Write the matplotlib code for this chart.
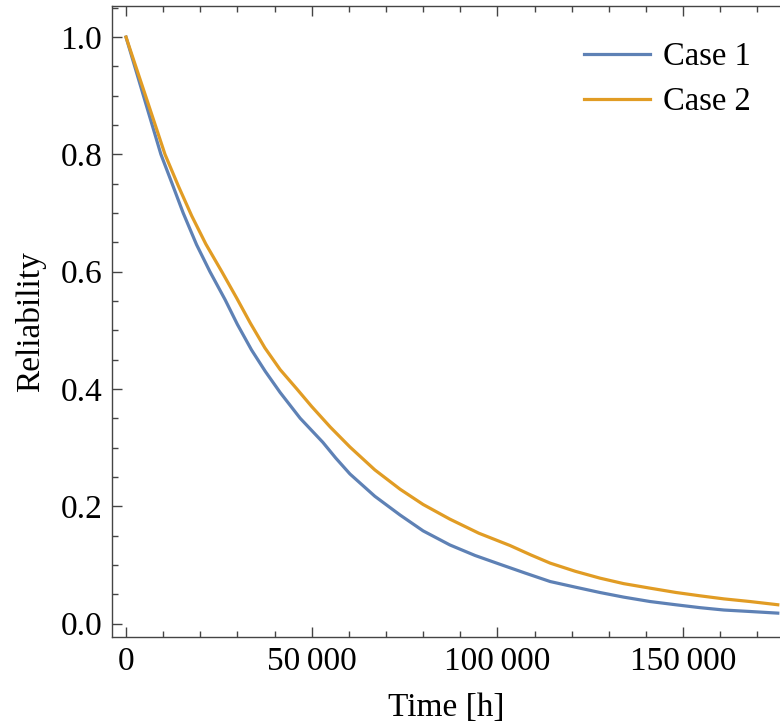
import matplotlib
matplotlib.use("Agg")
from matplotlib import pyplot as plt
from matplotlib.ticker import MultipleLocator, FuncFormatter

# values
time_case1 = [0, 4700, 9400, 12300, 15400, 19000, 22600, 26700, 30000, 33800,
              37500, 41500, 46900, 53000, 56500, 60300, 67000, 73800, 80000,
              87200, 94000, 100700, 107500, 114200, 121000, 127600, 134000,
              141100, 148000, 154600, 161000, 168000, 175500]
rel_case1 = [1.0, 0.9, 0.8, 0.752, 0.70, 0.646, 0.6, 0.552, 0.51, 0.4665,
             0.43, 0.394, 0.350, 0.309, 0.282, 0.255, 0.217, 0.185, 0.158,
             0.134, 0.116, 0.101, 0.086, 0.0716, 0.062, 0.0529, 0.045,
             0.0375, 0.032, 0.027, 0.023, 0.0205, 0.0177]

time_case2 = [0, 5000, 10500, 14100, 17700, 21500, 25800, 29800, 33500, 37400,
              41500, 46000, 50000, 55000, 60300, 67000, 73800, 80000, 87200,
              95000, 103400, 109000, 114200, 121000, 127600, 134000, 141100,
              148000, 154600, 161000, 168000, 175500]
rel_case2 = [1.0, 0.905, 0.8, 0.746, 0.695, 0.647, 0.6, 0.555, 0.512, 0.47,
             0.433, 0.4, 0.37, 0.335, 0.301, 0.262, 0.229, 0.203, 0.178,
             0.154, 0.133, 0.117, 0.103, 0.089, 0.0774, 0.068, 0.0603,
             0.053, 0.0472, 0.042, 0.0375, 0.032]

labels = ['Case 1', 'Case 2']
colors = ['#5E81B5', '#E19C24']


def thousands(v, pos):
    return f"{int(round(v)):,}".replace(',', '\u2009')


def main():
    plt.rcParams['font.family'] = ['Liberation Serif', 'DejaVu Serif']
    fig = plt.figure(figsize=(7.8, 7.26), dpi=100)
    ax = fig.add_axes([112 / 780, 89 / 726, 1 - 112 / 780, 631 / 726])

    ax.plot(time_case1, rel_case1, color=colors[0], lw=2.3, label=labels[0])
    ax.plot(time_case2, rel_case2, color=colors[1], lw=2.3, label=labels[1])

    ax.set_xlim(-3770, 176100)
    ax.set_ylim(-0.023, 1.053)

    ax.xaxis.set_major_locator(MultipleLocator(50000))
    ax.xaxis.set_minor_locator(MultipleLocator(10000))
    ax.xaxis.set_major_formatter(FuncFormatter(thousands))
    ax.yaxis.set_major_locator(MultipleLocator(0.2))
    ax.yaxis.set_minor_locator(MultipleLocator(0.05))
    ax.yaxis.set_major_formatter(FuncFormatter(lambda v, p: f"{v:.1f}"))

    ax.spines['right'].set_visible(False)
    for s in ['left', 'bottom', 'top']:
        ax.spines[s].set_color('#444444')
        ax.spines[s].set_linewidth(1.0)
    ax.tick_params(which='both', direction='in', top=True, right=False,
                   color='#444444', width=1.0, labelsize=24)
    ax.tick_params(which='major', length=7, pad=7)
    ax.tick_params(which='minor', length=4.5)

    ax.set_xlabel('Time [h]', fontsize=24, labelpad=11)
    ax.set_ylabel('Reliability', fontsize=24, labelpad=10)

    ax.legend(loc='upper right', frameon=False, fontsize=23.5,
              handlelength=2.0, handletextpad=0.4, labelspacing=0.45,
              bbox_to_anchor=(1.0, 0.99))

    fig.savefig('out.png', dpi=100)


if __name__ == '__main__':
    main()
